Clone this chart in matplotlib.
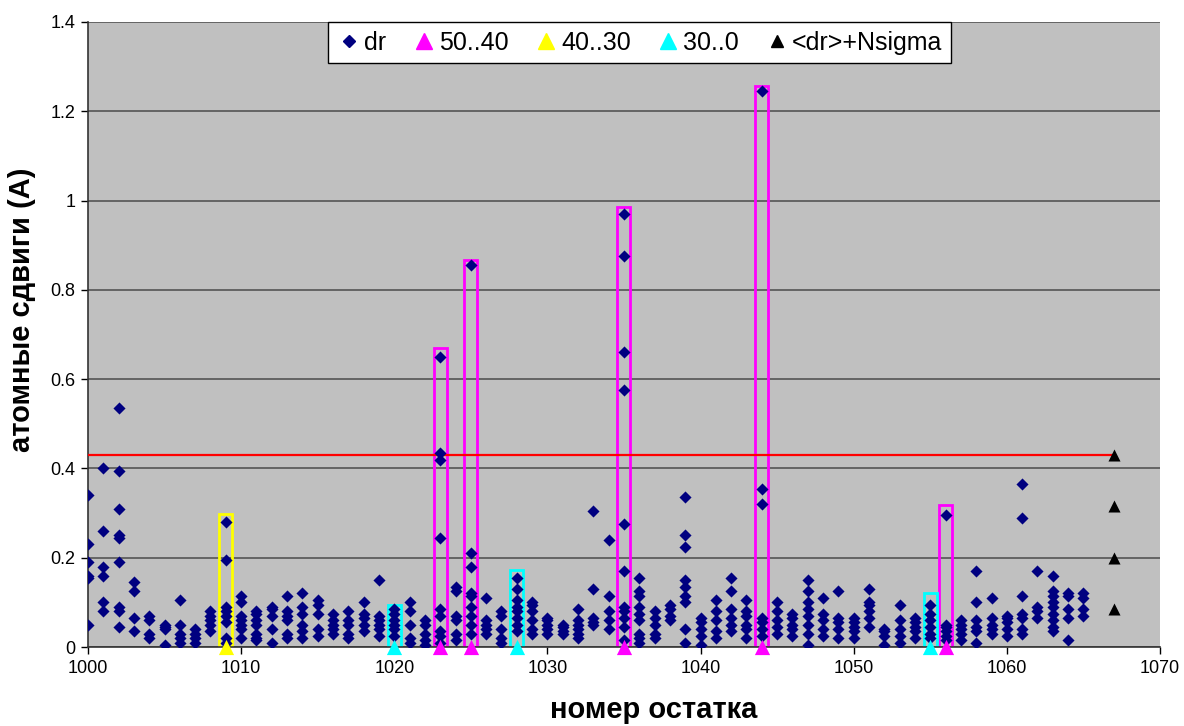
import numpy as np
import matplotlib.pyplot as plt
from matplotlib.lines import Line2D

plt.rcParams['font.family'] = ['Liberation Sans', 'DejaVu Sans']

# atomic shifts per residue (several atoms each)
residues = list(range(1000, 1066))
dr_values = [
    [0.34, 0.23, 0.19, 0.16, 0.155, 0.05],
    [0.40, 0.26, 0.18, 0.16, 0.10, 0.08],
    [0.535, 0.395, 0.31, 0.25, 0.245, 0.19, 0.09, 0.08, 0.045],
    [0.145, 0.125, 0.065, 0.035],
    [0.07, 0.06, 0.03, 0.02],
    [0.05, 0.045, 0.04, 0.005],
    [0.105, 0.05, 0.03, 0.02, 0.01],
    [0.04, 0.03, 0.02, 0.01],
    [0.08, 0.07, 0.06, 0.05, 0.035],
    [0.28, 0.195, 0.09, 0.08, 0.07, 0.055, 0.02, 0.01],
    [0.115, 0.1, 0.07, 0.06, 0.05, 0.04, 0.02],
    [0.08, 0.075, 0.06, 0.05, 0.03, 0.02, 0.015],
    [0.09, 0.085, 0.07, 0.04, 0.01],
    [0.115, 0.08, 0.07, 0.06, 0.03, 0.02],
    [0.12, 0.09, 0.075, 0.05, 0.035, 0.02],
    [0.105, 0.095, 0.075, 0.04, 0.025],
    [0.075, 0.06, 0.05, 0.04, 0.03],
    [0.08, 0.06, 0.05, 0.03, 0.02],
    [0.1, 0.075, 0.065, 0.05, 0.035],
    [0.15, 0.07, 0.06, 0.05, 0.04, 0.025],
    [0.085, 0.075, 0.06, 0.05, 0.04, 0.025],
    [0.1, 0.08, 0.05, 0.02, 0.01],
    [0.06, 0.05, 0.03, 0.015, 0.005],
    [0.65, 0.435, 0.42, 0.245, 0.085, 0.07, 0.035, 0.025, 0.01],
    [0.135, 0.125, 0.07, 0.06, 0.03, 0.015],
    [0.855, 0.21, 0.18, 0.12, 0.115, 0.09, 0.07, 0.05, 0.03],
    [0.11, 0.06, 0.05, 0.04, 0.03],
    [0.08, 0.07, 0.04, 0.02, 0.01],
    [0.155, 0.13, 0.105, 0.09, 0.08, 0.065, 0.05, 0.035],
    [0.1, 0.095, 0.08, 0.06, 0.04, 0.03],
    [0.065, 0.06, 0.05, 0.04, 0.03],
    [0.05, 0.045, 0.035, 0.03],
    [0.085, 0.06, 0.05, 0.04, 0.03, 0.02],
    [0.305, 0.13, 0.065, 0.055, 0.05],
    [0.24, 0.115, 0.08, 0.06, 0.04],
    [0.97, 0.875, 0.66, 0.575, 0.275, 0.17, 0.09, 0.08, 0.065, 0.045, 0.015],
    [0.155, 0.125, 0.115, 0.09, 0.075, 0.06, 0.03, 0.02, 0.01],
    [0.08, 0.065, 0.05, 0.03, 0.02],
    [0.095, 0.085, 0.07, 0.06],
    [0.335, 0.25, 0.225, 0.15, 0.135, 0.115, 0.1, 0.04, 0.01],
    [0.065, 0.055, 0.04, 0.025, 0.005],
    [0.105, 0.08, 0.06, 0.035, 0.02],
    [0.155, 0.125, 0.085, 0.065, 0.05, 0.035],
    [0.105, 0.08, 0.07, 0.05, 0.04, 0.02],
    [1.245, 0.355, 0.32, 0.065, 0.055, 0.04, 0.025],
    [0.1, 0.08, 0.06, 0.045, 0.03],
    [0.075, 0.065, 0.05, 0.04, 0.025],
    [0.15, 0.125, 0.1, 0.085, 0.07, 0.05, 0.03, 0.005],
    [0.11, 0.075, 0.06, 0.04, 0.025],
    [0.125, 0.065, 0.055, 0.04, 0.02],
    [0.065, 0.055, 0.045, 0.035, 0.02],
    [0.13, 0.1, 0.095, 0.08, 0.065, 0.045],
    [0.04, 0.035, 0.025, 0.005],
    [0.095, 0.06, 0.04, 0.025, 0.01],
    [0.065, 0.055, 0.045, 0.035, 0.02],
    [0.095, 0.075, 0.06, 0.045, 0.03, 0.02],
    [0.295, 0.05, 0.045, 0.035, 0.025, 0.015],
    [0.06, 0.05, 0.04, 0.03, 0.015],
    [0.17, 0.1, 0.06, 0.045, 0.035, 0.01],
    [0.11, 0.065, 0.05, 0.04, 0.03],
    [0.07, 0.065, 0.055, 0.04, 0.025],
    [0.365, 0.29, 0.115, 0.075, 0.065, 0.04, 0.03],
    [0.17, 0.09, 0.08, 0.065],
    [0.16, 0.125, 0.115, 0.1, 0.09, 0.075, 0.06, 0.045, 0.035],
    [0.12, 0.115, 0.085, 0.065, 0.015],
    [0.12, 0.11, 0.085, 0.07],
]

# highlighted residues by group
res_50_40 = [1023, 1025, 1035, 1044, 1056]
box_50_40 = [0.67, 0.867, 0.986, 1.257, 0.318]
res_40_30 = [1009]
box_40_30 = [0.298]
res_30_0 = [1020, 1028, 1055]
box_30_0 = [0.094, 0.172, 0.121]

# <dr> + N sigma levels
sigma_x = 1067
sigma_levels = [0.085, 0.2, 0.315, 0.43]
threshold = 0.43

fig = plt.figure(figsize=(11.84, 7.26), dpi=100)
ax = fig.add_axes([0.0743, 0.1088, 0.9054, 0.8609])
ax.set_facecolor('#C0C0C0')

xs = np.concatenate([[r] * len(v) for r, v in zip(residues, dr_values)])
ys = np.concatenate(dr_values)

ax.set_axisbelow(True)
ax.yaxis.grid(True, color='#555555', linewidth=1.2)

groups = [(res_50_40, box_50_40, '#FF00FF'),
          (res_40_30, box_40_30, '#FFFF00'),
          (res_30_0, box_30_0, '#00FFFF')]
for rs, hs, c in groups:
    ax.bar(rs, hs, width=0.85, fill=False, edgecolor=c, linewidth=2, zorder=2)

ax.plot([residues[0], sigma_x], [threshold, threshold], color='#FF0000', linewidth=1.6, zorder=3)

ax.scatter(xs, ys, marker='D', s=38, color='#000080', zorder=4, linewidths=0)
for rs, hs, c in groups:
    ax.scatter(rs, [0] * len(rs), marker='^', s=120, color=c, zorder=5, clip_on=False, linewidths=0)
ax.scatter([sigma_x] * len(sigma_levels), sigma_levels, marker='^', s=75, color='black', zorder=5, linewidths=0)

ax.set_xlim(1000, 1070)
ax.set_ylim(0, 1.4)
ax.set_xticks(np.arange(1000, 1071, 10))
ax.set_yticks([0, 0.2, 0.4, 0.6, 0.8, 1, 1.2, 1.4])
ax.set_yticklabels(['0', '0.2', '0.4', '0.6', '0.8', '1', '1.2', '1.4'])
ax.tick_params(axis='both', labelsize=13, direction='out', length=5, width=1, pad=4)
for s in ['top', 'right']:
    ax.spines[s].set_visible(False)
for s in ['left', 'bottom']:
    ax.spines[s].set_color('#333333')
    ax.spines[s].set_linewidth(1.2)

fig.text(654 / 1184, 1 - 710 / 726, 'номер остатка', fontsize=21, fontweight='bold',
         ha='center', va='center')
fig.text(22 / 1184, 1 - 310 / 726, 'атомные сдвиги (А)', fontsize=21, fontweight='bold',
         ha='center', va='center', rotation=90)

handles = [
    Line2D([], [], marker='D', linestyle='none', color='#000080', markersize=6),
    Line2D([], [], marker='^', linestyle='none', color='#FF00FF', markersize=12),
    Line2D([], [], marker='^', linestyle='none', color='#FFFF00', markersize=12),
    Line2D([], [], marker='^', linestyle='none', color='#00FFFF', markersize=12),
    Line2D([], [], marker='^', linestyle='none', color='black', markersize=8),
]
labels = ['dr', '50..40', '40..30', '30..0', '<dr>+Nsigma']
leg = ax.legend(handles, labels, loc='upper center', bbox_to_anchor=(0.5145, 1.0), ncol=5,
                fontsize=18, frameon=True, fancybox=False, framealpha=1,
                edgecolor='black', handletextpad=0.1, columnspacing=1.0,
                handlelength=1.0, borderpad=0.35, borderaxespad=0)
leg.get_frame().set_linewidth(1.0)

fig.savefig('out.png', dpi=100)
